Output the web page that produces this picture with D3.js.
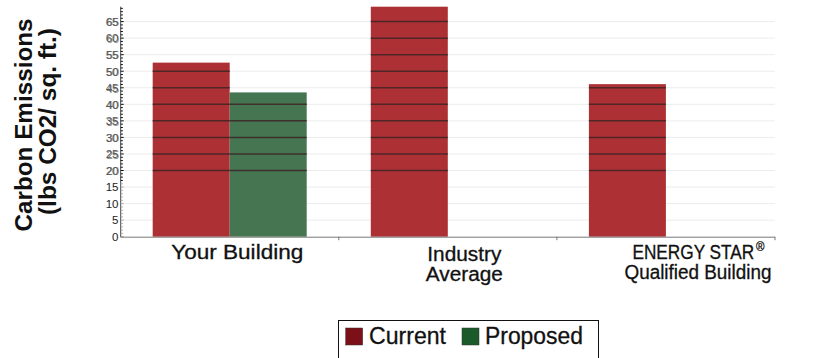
<!DOCTYPE html>
<html>
<head>
<meta charset="utf-8">
<script src="https://cdn.jsdelivr.net/npm/d3@7"></script>
<style>
  html, body { margin: 0; padding: 0; background: #fff; }
  svg { display: block; font-family: "Liberation Sans", Arial, sans-serif; }
</style>
</head>
<body>
<svg id="chart" width="819" height="358"></svg>
<script>
// ---- data ----
const categories = ["Your Building", "Industry Average", "ENERGY STAR Qualified Building"];
const seriesNames = ["Current", "Proposed"];
const currentValues = [52.6, 69.5, 46.1];
const proposedValues = [43.6, null, null];
const yTicks = [0, 5, 10, 15, 20, 25, 30, 35, 40, 45, 50, 55, 60, 65];
const yTitle = ["Carbon Emissions", "(lbs CO2/ sq. ft.)"];

(function () {
// ---- layout ----
const svg = d3.select("#chart");
svg.append("rect").attr("width", 819).attr("height", 358).attr("fill", "#fff");

const pLeft = 120.7, pRight = 775, pTop = 6.7, pBottom = 236.7;
const x0 = d3.scaleBand().domain(categories).range([pLeft, pRight]).padding(0);
const x1 = d3.scaleBand().domain(seriesNames).range([32, 186]).padding(0);
const y = d3.scaleLinear().domain([0, 69.5]).range([pBottom, pTop]);

const barColors = { Current: "#ad3134", Proposed: "#467552" };
const legendColors = { Current: "#7b1019", Proposed: "#1b5a2b" };

const seriesData = { Current: currentValues, Proposed: proposedValues };

// light gridlines
svg.append("g").selectAll("line")
  .data(yTicks.filter(t => t > 0))
  .join("line")
  .attr("x1", pLeft).attr("x2", pRight)
  .attr("y1", d => y(d)).attr("y2", d => y(d))
  .attr("stroke", "#ececec").attr("stroke-width", 1);

// bars
const bars = [];
categories.forEach((c, i) => {
  seriesNames.forEach(s => {
    const v = seriesData[s][i];
    if (v != null) bars.push({ cat: c, series: s, value: v });
  });
});

svg.append("g").selectAll("rect")
  .data(bars)
  .join("rect")
  .attr("x", d => x0(d.cat) + x1(d.series))
  .attr("width", x1.bandwidth())
  .attr("y", d => y(d.value))
  .attr("height", d => y(0) - y(d.value))
  .attr("fill", d => barColors[d.series]);

// dark grid segments over bars (upper region)
const segs = [];
bars.forEach(b => {
  yTicks.filter(t => t >= 20 && t < b.value).forEach(t => segs.push({ b, t }));
});
svg.append("g").selectAll("line")
  .data(segs)
  .join("line")
  .attr("x1", d => x0(d.b.cat) + x1(d.b.series))
  .attr("x2", d => x0(d.b.cat) + x1(d.b.series) + x1.bandwidth())
  .attr("y1", d => y(d.t)).attr("y2", d => y(d.t))
  .attr("stroke", "#3d2424").attr("stroke-opacity", 0.85).attr("stroke-width", 1.5);

// y axis line
svg.append("line")
  .attr("x1", pLeft).attr("x2", pLeft).attr("y1", pTop).attr("y2", pBottom + 0.5)
  .attr("stroke", "#444").attr("stroke-width", 1);

// minor ticks
const minor = d3.range(0, 70, 1);
svg.append("g").selectAll("line")
  .data(minor)
  .join("line")
  .attr("x1", pLeft).attr("x2", d => pLeft + (d % 5 === 0 ? 3 : 2.2))
  .attr("y1", d => y(d)).attr("y2", d => y(d))
  .attr("stroke", d => d >= 17 ? "#111" : "#aaa")
  .attr("stroke-width", 1);

// y tick labels
const yl = svg.append("g").attr("font-size", 11.5).attr("text-anchor", "end");
yl.selectAll("text.ghost")
  .data(yTicks.filter(t => t >= 20))
  .join("text")
  .attr("class", "ghost")
  .attr("x", 119.2).attr("y", d => y(d) + 4.8)
  .attr("fill", "#888").text(d => d);
yl.selectAll("text.main")
  .data(yTicks)
  .join("text")
  .attr("class", "main")
  .attr("x", 118.5).attr("y", d => y(d) + 4.3)
  .attr("fill", d => d >= 20 ? "#555" : "#222")
  .text(d => d);

// x axis
svg.append("line")
  .attr("x1", pLeft).attr("x2", pRight).attr("y1", pBottom + 0.5).attr("y2", pBottom + 0.5)
  .attr("stroke", "#777").attr("stroke-width", 1);
svg.append("g").selectAll("line")
  .data(categories)
  .join("line")
  .attr("x1", d => x0(d) + x0.bandwidth()).attr("x2", d => x0(d) + x0.bandwidth())
  .attr("y1", pBottom).attr("y2", pBottom + 3.5)
  .attr("stroke", "#777");

// category labels
const cx = c => x0(c) + x0.bandwidth() / 2;
const lab = svg.append("g").attr("font-size", 19.5).attr("fill", "#111")
  .attr("stroke", "#111").attr("stroke-width", 0.3);
lab.append("text").attr("x", cx(categories[0]) + 7.5).attr("y", 258.7)
  .attr("text-anchor", "middle").attr("textLength", 132).attr("lengthAdjust", "spacingAndGlyphs")
  .text("Your Building");
lab.append("text").attr("x", cx(categories[1]) + 16.5).attr("y", 260.5)
  .attr("text-anchor", "middle").attr("textLength", 74).attr("lengthAdjust", "spacingAndGlyphs")
  .text("Industry");
lab.append("text").attr("x", cx(categories[1]) + 16.5).attr("y", 281)
  .attr("text-anchor", "middle").attr("textLength", 77).attr("lengthAdjust", "spacingAndGlyphs")
  .text("Average");
const esX = cx(categories[2]) + 32;
const es = lab.append("text").attr("x", esX - 65.5).attr("y", 258.7)
  .attr("textLength", 132).attr("lengthAdjust", "spacingAndGlyphs");
es.append("tspan").text("ENERGY STAR");
es.append("tspan").attr("font-size", 13).attr("dy", -8).attr("dx", 2).text("®");
lab.append("text").attr("x", esX).attr("y", 279)
  .attr("text-anchor", "middle").attr("textLength", 147).attr("lengthAdjust", "spacingAndGlyphs")
  .text("Qualified Building");

// y title
const yt = svg.append("g").attr("font-weight", "bold").attr("fill", "#111");
yt.append("text")
  .attr("transform", "translate(32,125) rotate(-90)")
  .attr("font-size", 24)
  .attr("text-anchor", "middle").attr("textLength", 213).attr("lengthAdjust", "spacingAndGlyphs")
  .text(yTitle[0]);
yt.append("text")
  .attr("transform", "translate(56,121.5) rotate(-90)")
  .attr("font-size", 23)
  .attr("text-anchor", "middle").attr("textLength", 187).attr("lengthAdjust", "spacingAndGlyphs")
  .text(yTitle[1]);

// legend
const lg = svg.append("g");
lg.append("rect").attr("x", 338.5).attr("y", 320.5).attr("width", 260).attr("height", 60)
  .attr("fill", "#fff").attr("stroke", "#111").attr("stroke-width", 1);
const legendItems = [
  { name: seriesNames[0], sx: 345.7, tx: 369, tl: 77 },
  { name: seriesNames[1], sx: 462, tx: 485, tl: 98 }
];
legendItems.forEach(it => {
  lg.append("rect").attr("x", it.sx).attr("y", 328).attr("width", 17).attr("height", 17)
    .attr("fill", legendColors[it.name]).attr("stroke", "#333").attr("stroke-width", 0.5);
  lg.append("text").attr("x", it.tx).attr("y", 344.3).attr("font-size", 23)
    .attr("fill", "#111").attr("stroke", "#111").attr("stroke-width", 0.3)
    .attr("textLength", it.tl).attr("lengthAdjust", "spacingAndGlyphs")
    .text(it.name);
});
})();
</script>
</body>
</html>
